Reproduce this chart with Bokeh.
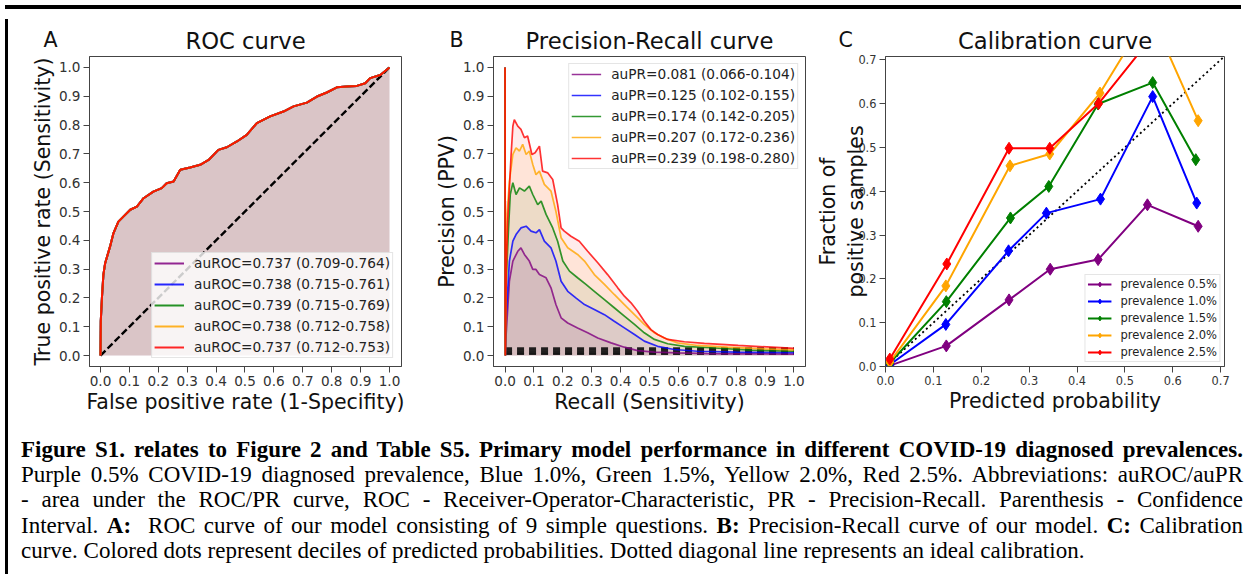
from bokeh.plotting import figure
from bokeh.models import (Title, Legend, LegendItem, FixedTicker, PrintfTickFormatter,
                          Div, Range1d)
from bokeh.layouts import row, column
from bokeh.embed import file_html
from bokeh.resources import INLINE

# ---------------- data ----------------
series_colors = ["purple", "blue", "green", "orange", "red"]
prevalence = [0.005, 0.010, 0.015, 0.020, 0.025]
prevalence_labels = ["prevalence 0.5%", "prevalence 1.0%", "prevalence 1.5%",
                     "prevalence 2.0%", "prevalence 2.5%"]
roc_labels = ["auROC=0.737 (0.709-0.764)", "auROC=0.738 (0.715-0.761)",
              "auROC=0.739 (0.715-0.769)", "auROC=0.738 (0.712-0.758)",
              "auROC=0.737 (0.712-0.753)"]
pr_labels = ["auPR=0.081 (0.066-0.104)", "auPR=0.125 (0.102-0.155)",
             "auPR=0.174 (0.142-0.205)", "auPR=0.207 (0.172-0.236)",
             "auPR=0.239 (0.198-0.280)"]
panel_letters = ["A", "B", "C"]
panel_titles = ["ROC curve", "Precision-Recall curve", "Calibration curve"]

unit_ticks = [0.0, 0.1, 0.2, 0.3, 0.4, 0.5, 0.6, 0.7, 0.8, 0.9, 1.0]
cal_ticks = [0.0, 0.1, 0.2, 0.3, 0.4, 0.5, 0.6, 0.7]

# ROC curve (the five prevalences give practically identical curves)
roc_fpr = [0.0, 0.001, 0.005, 0.010, 0.016, 0.033, 0.045, 0.062, 0.080, 0.103, 0.126,
           0.149, 0.183, 0.212, 0.229, 0.253, 0.276, 0.310, 0.345, 0.374, 0.408,
           0.437, 0.472, 0.506, 0.541, 0.587, 0.633, 0.668, 0.714, 0.749, 0.783,
           0.818, 0.852, 0.887, 0.916, 0.933, 0.968, 1.0]
roc_tpr = [0.0, 0.12, 0.20, 0.28, 0.32, 0.378, 0.425, 0.465, 0.483, 0.506, 0.517,
           0.546, 0.569, 0.581, 0.598, 0.604, 0.645, 0.653, 0.662, 0.679, 0.714,
           0.723, 0.743, 0.766, 0.807, 0.830, 0.847, 0.865, 0.878, 0.899, 0.913,
           0.931, 0.934, 0.936, 0.945, 0.963, 0.974, 1.0]
roc_diag = [0.0, 1.0]

# Precision-recall curves
pr_recall_purple = [0.0, 0.001, 0.003, 0.015, 0.027, 0.044, 0.055, 0.067, 0.084, 0.096,
                    0.107, 0.119, 0.142, 0.159, 0.176, 0.194, 0.217, 0.251, 0.286, 0.321,
                    0.367, 0.413, 0.459, 0.517, 0.600, 0.700, 0.800, 0.900, 1.0]
pr_prec_purple = [1.0, 0.0, 0.061, 0.258, 0.328, 0.362, 0.374, 0.351, 0.328, 0.299,
                  0.299, 0.281, 0.270, 0.235, 0.177, 0.131, 0.113, 0.096, 0.079, 0.061,
                  0.044, 0.029, 0.017, 0.012, 0.009, 0.007, 0.006, 0.006, 0.005]
pr_recall_blue = [0.0, 0.001, 0.003, 0.015, 0.027, 0.038, 0.055, 0.073, 0.090, 0.107,
                  0.119, 0.136, 0.159, 0.176, 0.194, 0.217, 0.245, 0.275, 0.309, 0.344,
                  0.378, 0.413, 0.448, 0.482, 0.528, 0.586, 0.667, 0.800, 0.900, 1.0]
pr_prec_blue = [1.0, 0.0, 0.119, 0.328, 0.397, 0.420, 0.443, 0.449, 0.432, 0.426,
                0.437, 0.397, 0.374, 0.328, 0.258, 0.223, 0.200, 0.177, 0.160, 0.142,
                0.119, 0.096, 0.073, 0.050, 0.032, 0.021, 0.015, 0.012, 0.011, 0.010]
pr_recall_green = [0.0, 0.001, 0.003, 0.012, 0.018, 0.027, 0.038, 0.050, 0.067, 0.084,
                   0.096, 0.113, 0.125, 0.142, 0.165, 0.182, 0.200, 0.223, 0.251, 0.280,
                   0.309, 0.344, 0.378, 0.413, 0.448, 0.482, 0.517, 0.563, 0.621, 0.713,
                   0.850, 1.0]
pr_prec_green = [1.0, 0.0, 0.235, 0.443, 0.559, 0.600, 0.559, 0.582, 0.571, 0.588,
                 0.559, 0.524, 0.536, 0.490, 0.443, 0.397, 0.328, 0.293, 0.270, 0.247,
                 0.223, 0.194, 0.166, 0.137, 0.108, 0.079, 0.056, 0.041, 0.032, 0.027,
                 0.019, 0.015]
pr_recall_orange = [0.0, 0.001, 0.007, 0.015, 0.027, 0.038, 0.050, 0.061, 0.073, 0.084,
                    0.096, 0.107, 0.119, 0.136, 0.159, 0.176, 0.194, 0.217, 0.251, 0.275,
                    0.309, 0.344, 0.378, 0.413, 0.448, 0.482, 0.517, 0.551, 0.597, 0.667,
                    0.770, 0.900, 1.0]
pr_prec_orange = [1.0, 0.0, 0.490, 0.605, 0.698, 0.721, 0.710, 0.733, 0.698, 0.710,
                  0.663, 0.628, 0.640, 0.594, 0.571, 0.501, 0.409, 0.374, 0.351, 0.328,
                  0.281, 0.247, 0.212, 0.177, 0.142, 0.108, 0.079, 0.061, 0.044, 0.035,
                  0.029, 0.023, 0.020]
pr_recall_red = [0.0, 0.001, 0.004, 0.009, 0.021, 0.027, 0.032, 0.044, 0.055, 0.067,
                 0.078, 0.093, 0.104, 0.119, 0.130, 0.148, 0.165, 0.182, 0.194, 0.205,
                 0.228, 0.257, 0.286, 0.321, 0.355, 0.390, 0.413, 0.436, 0.459, 0.482,
                 0.505, 0.528, 0.563, 0.621, 0.690, 0.807, 0.923, 1.0]
pr_prec_red = [1.0, 0.0, 0.300, 0.466, 0.698, 0.796, 0.819, 0.796, 0.785, 0.756,
               0.762, 0.698, 0.704, 0.727, 0.640, 0.634, 0.611, 0.524, 0.443, 0.432,
               0.414, 0.397, 0.362, 0.322, 0.281, 0.235, 0.206, 0.183, 0.154, 0.119,
               0.090, 0.073, 0.056, 0.048, 0.042, 0.035, 0.029, 0.025]
noskill_x = [0.0, 1.0]

# Calibration curves (deciles of predicted probability)
cal_x_purple = [0.009, 0.127, 0.258, 0.344, 0.444, 0.547, 0.653]
cal_y_purple = [0.002, 0.047, 0.152, 0.222, 0.244, 0.369, 0.320]
cal_x_blue = [0.009, 0.126, 0.257, 0.336, 0.449, 0.558, 0.650]
cal_y_blue = [0.004, 0.096, 0.264, 0.350, 0.382, 0.616, 0.373]
cal_x_green = [0.009, 0.127, 0.261, 0.341, 0.444, 0.558, 0.648]
cal_y_green = [0.008, 0.148, 0.339, 0.411, 0.599, 0.648, 0.472]
cal_x_orange = [0.009, 0.126, 0.260, 0.343, 0.448, 0.552, 0.653]
cal_y_orange = [0.010, 0.184, 0.458, 0.485, 0.624, 0.810, 0.561]
cal_x_red = [0.009, 0.128, 0.258, 0.343, 0.445, 0.555, 0.650]
cal_y_red = [0.017, 0.234, 0.498, 0.498, 0.600, 0.750, 0.780]
cal_diag = [0.0, 1.0]

pr_recalls = [pr_recall_purple, pr_recall_blue, pr_recall_green, pr_recall_orange, pr_recall_red]
pr_precs = [pr_prec_purple, pr_prec_blue, pr_prec_green, pr_prec_orange, pr_prec_red]
cal_xs = [cal_x_purple, cal_x_blue, cal_x_green, cal_x_orange, cal_x_red]
cal_ys = [cal_y_purple, cal_y_blue, cal_y_green, cal_y_orange, cal_y_red]

caption_lines = [
    ("<b>Figure S1. relates to Figure 2 and Table S5. Primary model performance in different COVID-19 diagnosed prevalences.</b>", True),
    ("Purple 0.5% COVID-19 diagnosed prevalence, Blue 1.0%, Green 1.5%, Yellow 2.0%, Red 2.5%. Abbreviations: auROC/auPR", True),
    ("- area under the ROC/PR curve, ROC - Receiver-Operator-Characteristic, PR - Precision-Recall. Parenthesis - Confidence", True),
    ("Interval. <b>A:</b>&nbsp; ROC curve of our model consisting of 9 simple questions. <b>B:</b> Precision-Recall curve of our model. <b>C:</b> Calibration", True),
    ("curve. Colored dots represent deciles of predicted probabilities. Dotted diagonal line represents an ideal calibration.", False),
]

# ---------------- styling helpers ----------------
FONT = "DejaVu Sans"
AX = "#444444"


def make_fig(letter, title, letter_offset, **kw):
    p = figure(title=letter, output_backend="svg", toolbar_location=None,
               min_border_top=42, min_border_bottom=48, **kw)
    # panel letter (outermost title, pulled down onto the title line)
    p.title.text_font = FONT
    p.title.text_font_size = "20.6px"
    p.title.text_font_style = "normal"
    p.title.text_color = "#111111"
    p.title.align = "left"
    p.title.offset = letter_offset
    p.title.standoff = -57
    # panel title, nearest the frame
    p.add_layout(Title(text=title, align="center", standoff=5, text_font=FONT,
                       text_font_size="22.7px", text_font_style="normal",
                       text_color="#111111"), "above")
    return p


def style(p, ticks, tick_size):
    p.background_fill_color = "white"
    p.border_fill_color = "white"
    p.outline_line_color = AX
    p.outline_line_width = 1
    p.xgrid.visible = False
    p.ygrid.visible = False
    for ax in (p.xaxis[0], p.yaxis[0]):
        ax.ticker = FixedTicker(ticks=ticks)
        ax.formatter = PrintfTickFormatter(format="%.1f")
        ax.major_label_text_font = FONT
        ax.major_label_text_font_size = tick_size
        ax.major_label_text_color = "#333333"
        ax.axis_label_text_font = FONT
        ax.axis_label_text_font_size = "20.5px"
        ax.axis_label_text_font_style = "normal"
        ax.axis_label_text_color = "#111111"
        ax.major_tick_out = 6
        ax.major_tick_in = 0
        ax.minor_tick_line_color = None
        ax.axis_line_color = AX
        ax.major_tick_line_color = AX
        ax.major_label_standoff = 3
        ax.axis_label_standoff = 1


def style_legend(lg, font_size, glyph_w, item_h, spacing, standoff):
    lg.label_text_font = FONT
    lg.label_text_font_size = font_size
    lg.label_text_color = "#222222"
    lg.glyph_width = glyph_w
    lg.glyph_height = item_h
    lg.label_height = item_h
    lg.spacing = spacing
    lg.label_standoff = standoff
    lg.padding = 2
    lg.background_fill_alpha = 0.8
    lg.border_line_color = "#cccccc"
    lg.border_line_width = 1


# ---------------- Panel A: ROC ----------------
pA = make_fig(panel_letters[0], panel_titles[0], -46,
              frame_width=312, frame_height=310,
              x_range=Range1d(-0.038, 1.0415), y_range=Range1d(-0.038, 1.038),
              min_border_left=76, min_border_right=27)
style(pA, unit_ticks, "13.6px")
pA.xaxis.axis_label = "False positive rate (1-Specifity)"
pA.yaxis.axis_label = "True positive rate (Sensitivity)"
for c in series_colors:
    pA.varea(x=roc_fpr, y1=0, y2=roc_tpr, fill_color=c, fill_alpha=0.065)
pA.line(roc_diag, roc_diag, line_color="black", line_width=2.4, line_dash="7 3")
itemsA = []
for c, lab in zip(series_colors, roc_labels):
    r = pA.line(roc_fpr, roc_tpr, line_color=c, line_width=2, line_alpha=0.85)
    itemsA.append(LegendItem(label=lab, renderers=[r]))
lgA = Legend(items=itemsA, location="bottom_right", margin=8)
style_legend(lgA, "13.7px", 30, 14, 5, 10)
pA.add_layout(lgA)

# ---------------- Panel B: Precision-Recall ----------------
pB = make_fig(panel_letters[1], panel_titles[1], -44,
              frame_width=312, frame_height=310,
              x_range=Range1d(-0.04, 1.04), y_range=Range1d(-0.038, 1.038),
              min_border_left=65, min_border_right=2)
style(pB, unit_ticks, "13.6px")
pB.xaxis.axis_label = "Recall (Sensitivity)"
pB.yaxis.axis_label = "Precision (PPV)"
for c, rx, ry in zip(series_colors, pr_recalls, pr_precs):
    pB.varea(x=rx, y1=0, y2=ry, fill_color=c, fill_alpha=0.08)
for pv in prevalence:
    pB.line(noskill_x, [pv, pv], line_color="#111111", line_width=2, line_dash="7 5",
            line_alpha=0.9)
itemsB = []
for c, lab, rx, ry in zip(series_colors, pr_labels, pr_recalls, pr_precs):
    r = pB.line(rx, ry, line_color=c, line_width=1.7, line_alpha=0.8)
    itemsB.append(LegendItem(label=lab, renderers=[r]))
lgB = Legend(items=itemsB, location="top_right", margin=7)
style_legend(lgB, "13.7px", 30, 14, 5, 10)
pB.add_layout(lgB)

# ---------------- Panel C: Calibration ----------------
pC = make_fig(panel_letters[2], panel_titles[2], -47,
              frame_width=339, frame_height=310,
              x_range=Range1d(0.0, 0.708), y_range=Range1d(0.0, 0.7075),
              min_border_left=78, min_border_right=18)
style(pC, cal_ticks, "11.4px")
pC.xaxis.axis_label = "Predicted probability"
pC.yaxis.axis_label = "Fraction of\npositive samples"
pC.yaxis.axis_label_standoff = -13
pC.line(cal_diag, cal_diag, line_color="black", line_width=1.8, line_dash="2 3")
itemsC = []
for c, lab, cx, cy in zip(series_colors, prevalence_labels, cal_xs, cal_ys):
    rl = pC.line(cx, cy, line_color=c, line_width=2)
    rm = pC.scatter(cx, cy, marker="diamond", size=12, fill_color=c, line_color=c)
    itemsC.append(LegendItem(label=lab, renderers=[rl, rm]))
lgC = Legend(items=itemsC, location="bottom_right", margin=4)
style_legend(lgC, "11.5px", 24, 12, 3, 9)
pC.add_layout(lgC)

# ---------------- caption & frame ----------------
parts = []
for html, justify in caption_lines:
    if justify:
        st = "white-space:nowrap;text-align:justify;text-align-last:justify;"
    else:
        st = "white-space:nowrap;text-align:left;"
    parts.append('<div style="%sheight:25.2px;line-height:25.2px;">%s</div>' % (st, html))
caption_html = ('<div style="font-family:\'Liberation Serif\',\'Times New Roman\',serif;'
                'font-size:23px;color:#000;padding:16px 0 0 3px;width:1225px;">'
                + "".join(parts) + "</div>")
caption = Div(text=caption_html, width=1233, height=150)

top_bar = Div(text="", width=1236, height=4, styles={"background-color": "black"})
left_bar = Div(text="", width=3, height=555, styles={"background-color": "black"})

layout = column(top_bar, row(left_bar, column(row(pA, pB, pC), caption)))

open("out.html", "w").write(file_html(layout, INLINE))
